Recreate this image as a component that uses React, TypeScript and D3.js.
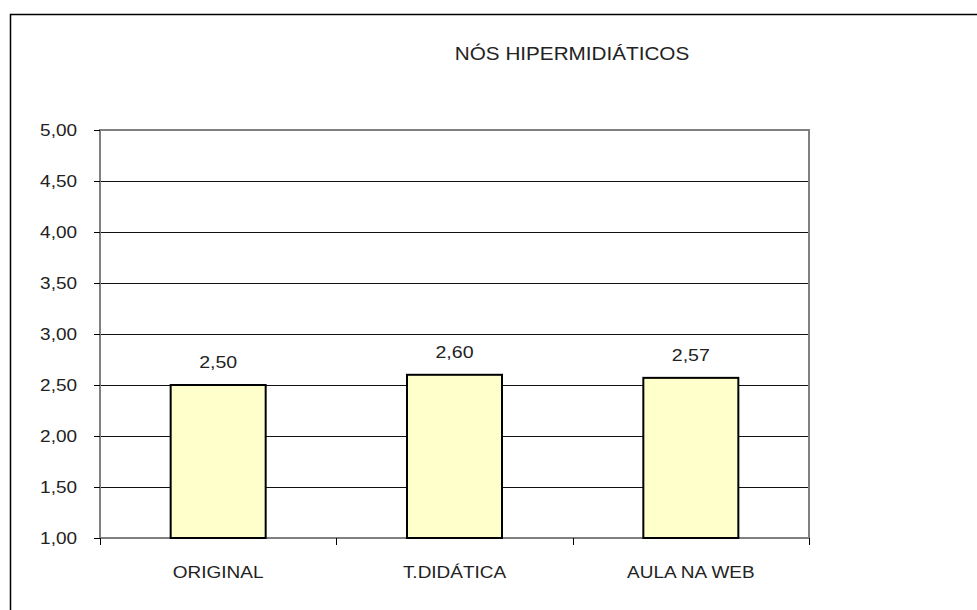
import { useEffect, useRef } from 'react';
import * as d3 from 'd3';

const title = 'NÓS HIPERMIDIÁTICOS';
const categories = ['ORIGINAL', 'T.DIDÁTICA', 'AULA NA WEB'];
const values = [2.5, 2.6, 2.57];
const yTicks = [1, 1.5, 2, 2.5, 3, 3.5, 4, 4.5, 5];

const width = 977;
const height = 610;
const plot = { left: 100, top: 130, right: 809, bottom: 538 };
const font = '"Liberation Sans", Arial, sans-serif';
const stretch = 1.15;

export default function App() {
  const svgRef = useRef<SVGSVGElement>(null);

  useEffect(() => {
    const svg = d3.select(svgRef.current);
    svg.selectAll('*').remove();

    const pt = d3.formatLocale({ decimal: ',', thousands: '.', grouping: [3], currency: ['R$', ''] });
    const fmt = pt.format('.2f');

    const x = d3.scaleBand<string>().domain(categories).range([plot.left, plot.right]).padding(0);
    const y = d3.scaleLinear().domain([1, 5]).range([plot.bottom, plot.top]);
    const barW = x.bandwidth() * 0.402;

    // moldura externa (sai da imagem à direita e em baixo)
    svg.append('rect')
      .attr('x', 10.5).attr('y', 14.5)
      .attr('width', width).attr('height', height)
      .attr('fill', 'white').attr('stroke', '#000').attr('stroke-width', 1.5);

    // linhas de grade
    svg.append('g')
      .selectAll('line')
      .data(yTicks.filter(t => t > 1 && t < 5))
      .enter()
      .append('line')
      .attr('x1', plot.left).attr('x2', plot.right)
      .attr('y1', d => Math.round(y(d)) + 0.5).attr('y2', d => Math.round(y(d)) + 0.5)
      .attr('stroke', '#111').attr('stroke-width', 1);

    // borda da área de plotagem
    svg.append('rect')
      .attr('x', plot.left).attr('y', plot.top)
      .attr('width', plot.right - plot.left).attr('height', plot.bottom - plot.top)
      .attr('fill', 'none').attr('stroke', '#808080').attr('stroke-width', 2);

    // ticks do eixo y
    const yg = svg.append('g');
    yg.selectAll('line')
      .data(yTicks)
      .enter()
      .append('line')
      .attr('x1', plot.left - 6).attr('x2', plot.left)
      .attr('y1', d => Math.round(y(d)) + 0.5).attr('y2', d => Math.round(y(d)) + 0.5)
      .attr('stroke', '#000').attr('stroke-width', 1);
    yg.selectAll('text')
      .data(yTicks)
      .enter()
      .append('text')
      .attr('transform', d => `translate(77,${y(d) + 6}) scale(${stretch},1)`)
      .attr('text-anchor', 'end')
      .attr('font-family', font).attr('font-size', 16.5)
      .attr('fill', '#222')
      .text(d => fmt(d));

    // ticks do eixo x
    const xTickPos = [...categories.map(c => x(c) as number), plot.right];
    svg.append('g')
      .selectAll('line')
      .data(xTickPos)
      .enter()
      .append('line')
      .attr('x1', d => Math.round(d) + 0.5).attr('x2', d => Math.round(d) + 0.5)
      .attr('y1', plot.bottom).attr('y2', plot.bottom + 7)
      .attr('stroke', '#000').attr('stroke-width', 1);

    // barras
    const bars = svg.append('g');
    bars.selectAll('rect')
      .data(values)
      .enter()
      .append('rect')
      .attr('x', (d, i) => (x(categories[i]) as number) + (x.bandwidth() - barW) / 2)
      .attr('y', d => y(d))
      .attr('width', barW)
      .attr('height', d => plot.bottom - y(d))
      .attr('fill', '#FFFFCC')
      .attr('stroke', '#000').attr('stroke-width', 2);

    // rótulos de valor
    bars.selectAll('text')
      .data(values)
      .enter()
      .append('text')
      .attr('transform', (d, i) => `translate(${(x(categories[i]) as number) + x.bandwidth() / 2},${y(d) - 17}) scale(${stretch},1)`)
      .attr('text-anchor', 'middle')
      .attr('font-family', font).attr('font-size', 17)
      .attr('fill', '#222')
      .text(d => fmt(d));

    // rótulos das categorias
    svg.append('g')
      .selectAll('text')
      .data(categories)
      .enter()
      .append('text')
      .attr('transform', d => `translate(${(x(d) as number) + x.bandwidth() / 2},578) scale(${stretch},1)`)
      .attr('text-anchor', 'middle')
      .attr('font-family', font).attr('font-size', 16.5)
      .attr('fill', '#222')
      .text(d => d);

    // título
    svg.append('text')
      .attr('transform', `translate(572,60) scale(${stretch},1)`)
      .attr('text-anchor', 'middle')
      .attr('font-family', font).attr('font-size', 18)
      .attr('fill', '#222')
      .text(title);
  }, []);

  return (
    <div style={{ position: 'fixed', top: 0, left: 0, width, height, background: 'white' }}>
      <svg ref={svgRef} width={width} height={height} style={{ display: 'block' }} />
    </div>
  );
}
